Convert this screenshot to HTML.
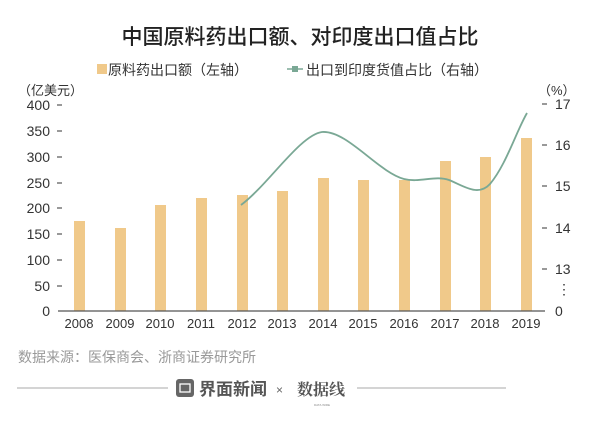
<!DOCTYPE html>
<html><head><meta charset="utf-8"><style>
html,body{margin:0;padding:0;background:#fff;}
svg{display:block;font-family:"Liberation Sans","Noto Sans CJK SC",sans-serif;}
</style></head><body>
<svg width="600" height="422" viewBox="0 0 600 422" xmlns="http://www.w3.org/2000/svg">
<rect width="600" height="422" fill="#fff"/>
<text x="300" y="44" text-anchor="middle" font-size="21" font-weight="500" fill="#222" font-family="'Noto Sans CJK SC',sans-serif">中国原料药出口额、对印度出口值占比</text>
<rect x="97" y="64" width="10" height="10" fill="#f0c98a"/>
<text x="108" y="75" font-size="14" fill="#333">原料药出口额（左轴）</text>
<line x1="287" y1="69" x2="303" y2="69" stroke="#7aa895" stroke-width="1.5"/>
<rect x="292" y="66" width="6" height="6" fill="#7aa895"/>
<text x="306" y="75" font-size="14" fill="#333">出口到印度货值占比（右轴）</text>
<text x="18" y="95" font-size="13" fill="#333">（亿美元）</text>
<text x="538" y="95" font-size="13" fill="#333">（%）</text>
<g font-size="14" fill="#333" text-anchor="end">
<text x="50" y="110">400</text><text x="50" y="136">350</text><text x="50" y="162">300</text>
<text x="50" y="188">250</text><text x="50" y="213">200</text><text x="50" y="239">150</text>
<text x="50" y="265">100</text><text x="50" y="291">50</text><text x="50" y="316">0</text>
</g>
<g stroke="#333" stroke-width="1">
<line x1="57" y1="105" x2="62" y2="105"/><line x1="57" y1="131" x2="62" y2="131"/><line x1="57" y1="157" x2="62" y2="157"/>
<line x1="57" y1="183" x2="62" y2="183"/><line x1="57" y1="208" x2="62" y2="208"/><line x1="57" y1="234" x2="62" y2="234"/>
<line x1="57" y1="260" x2="62" y2="260"/><line x1="57" y1="286" x2="62" y2="286"/>
<line x1="542" y1="104" x2="547" y2="104"/><line x1="542" y1="145" x2="547" y2="145"/><line x1="542" y1="186" x2="547" y2="186"/>
<line x1="542" y1="228" x2="547" y2="228"/><line x1="542" y1="269" x2="547" y2="269"/>
</g>
<g font-size="14" fill="#333">
<text x="555" y="109">17</text><text x="555" y="150">16</text><text x="555" y="191">15</text>
<text x="555" y="233">14</text><text x="555" y="274">13</text><text x="557" y="294">⋮</text><text x="555" y="316">0</text>
</g>
<g fill="#f0c98a">
<rect x="74" y="221" width="11" height="90"/>
<rect x="115" y="228" width="11" height="83"/>
<rect x="155" y="205" width="11" height="106"/>
<rect x="196" y="198" width="11" height="113"/>
<rect x="237" y="195" width="11" height="116"/>
<rect x="277" y="191" width="11" height="120"/>
<rect x="318" y="178" width="11" height="133"/>
<rect x="358" y="180" width="11" height="131"/>
<rect x="399" y="180" width="11" height="131"/>
<rect x="440" y="161" width="11" height="150"/>
<rect x="480" y="157" width="11" height="154"/>
<rect x="521" y="138" width="11" height="173"/>
</g>
<line x1="58" y1="311" x2="545" y2="311" stroke="#555" stroke-width="1.2"/>
<path d="M241,205 C268,185 300,135 322,132 C347,130 378,172 404,179 C420,183 435,175 449,180 C464,186 478,197 490,184 C506,165 516,132 527,113" fill="none" stroke="#7aa895" stroke-width="1.8"/>
<g font-size="13" fill="#333" text-anchor="middle">
<text x="79" y="328">2008</text><text x="120" y="328">2009</text><text x="160" y="328">2010</text>
<text x="201" y="328">2011</text><text x="242" y="328">2012</text><text x="282" y="328">2013</text>
<text x="323" y="328">2014</text><text x="363" y="328">2015</text><text x="404" y="328">2016</text>
<text x="445" y="328">2017</text><text x="485" y="328">2018</text><text x="526" y="328">2019</text>
</g>
<text x="18" y="362" font-size="14" fill="#999">数据来源：医保商会、浙商证券研究所</text>
<line x1="17" y1="388" x2="168" y2="388" stroke="#aaa" stroke-width="1"/>
<line x1="357" y1="388" x2="506" y2="388" stroke="#aaa" stroke-width="1"/>
<rect x="176" y="379" width="18" height="18" rx="3" fill="#666"/>
<rect x="180" y="384" width="10" height="8" fill="none" stroke="#fff" stroke-width="1.3"/>
<text x="199" y="395" font-size="17" font-weight="bold" fill="#555">界面新闻</text>
<text x="276" y="394" font-size="12" fill="#666">×</text>
<text x="297" y="395" font-size="16" font-weight="bold" fill="#555" font-family="'Noto Serif CJK SC',serif">数据线</text>
<text x="322" y="406" font-size="3" fill="#888" text-anchor="middle">DATA WIRE</text>
</svg>
</body></html>
